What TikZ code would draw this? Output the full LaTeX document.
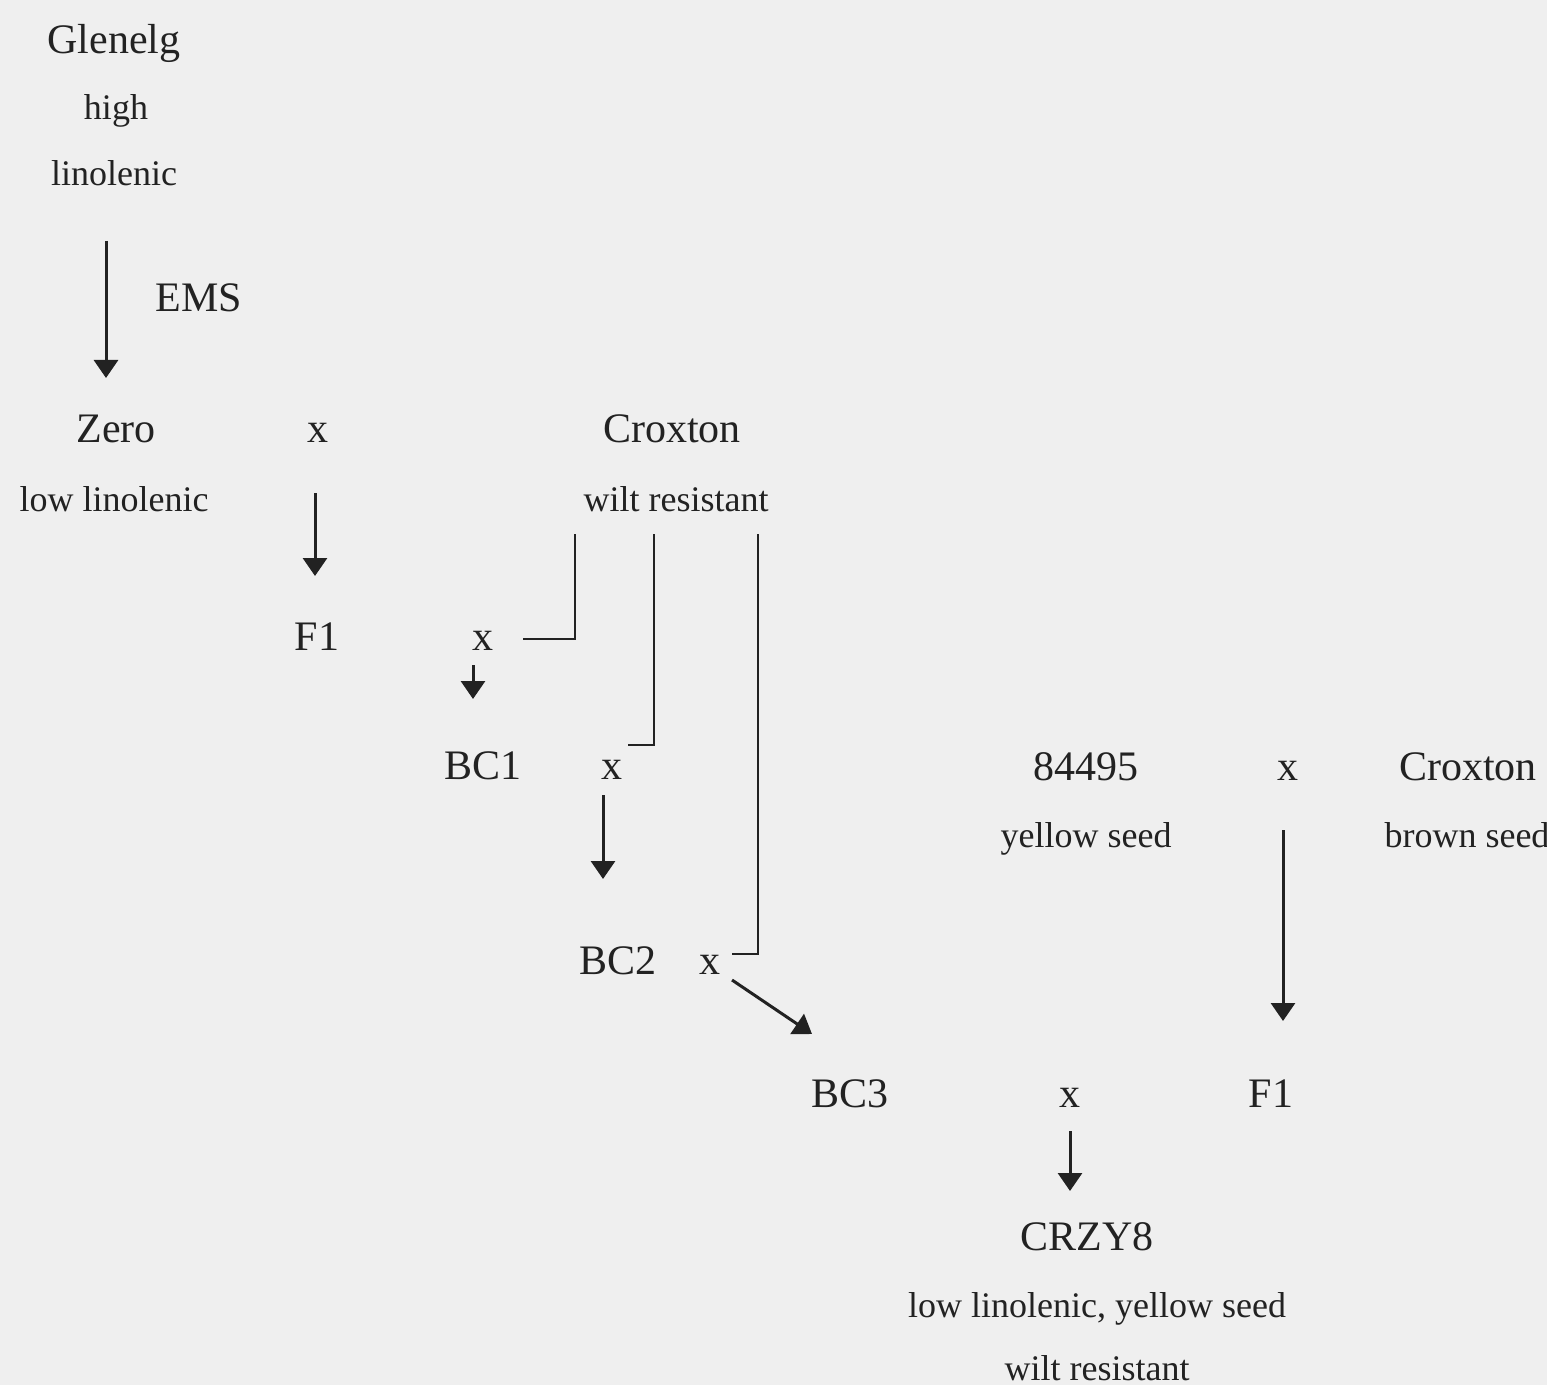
\documentclass[tikz,border=0pt]{standalone}
\usepackage{fontspec}
\setmainfont{Liberation Serif}
\usetikzlibrary{arrows.meta}
\definecolor{paper}{HTML}{EFEFEF}
\definecolor{ink}{HTML}{222222}
\tikzset{
  big/.style={font=\fontsize{21}{24}\selectfont, text=ink, anchor=base, inner sep=0pt},
  small/.style={font=\fontsize{18}{21}\selectfont, text=ink, anchor=base, inner sep=0pt},
  arr/.style={draw=ink, line width=1.5pt, -{Triangle[width=12pt,length=9pt]}},
  link/.style={draw=ink, line width=1pt}
}
\begin{document}
\begin{tikzpicture}[x=0.5pt,y=-0.5pt]
\fill[paper] (0,0) rectangle (1547,1385);
\useasboundingbox (0,0) rectangle (1547,1385);

% Mutation of Glenelg
\node[big]   (glen)  at (114,54)  {Glenelg};
\node[small] (high)  at (116,120) {high};
\node[small] (lino)  at (114,186) {linolenic};
\node[big]   (ems)   at (199,312) {EMS};
\node[big]   (zero)  at (116,443) {Zero};
\node[small] (lowl)  at (114,511) {low linolenic};

% Backcrossing to Croxton
\node[big]   (x1)    at (318,443) {x};
\node[big]   (crox1) at (672,443) {Croxton};
\node[small] (wr1)   at (676,511) {wilt resistant};
\node[big]   (f1a)   at (317,650) {F1};
\node[big]   (x2)    at (483,650) {x};
\node[big]   (bc1)   at (483,779) {BC1};
\node[big]   (x3)    at (612,779) {x};
\node[big]   (bc2)   at (618,974) {BC2};
\node[big]   (x4)    at (710,974) {x};
\node[big]   (bc3)   at (850,1107) {BC3};

% Seed colour cross
\node[big]   (p84)   at (1086,780) {84495};
\node[small] (ys)    at (1086,847) {yellow seed};
\node[big]   (x5)    at (1288,780) {x};
\node[big]   (crox2) at (1468,780) {Croxton};
\node[small] (bs)    at (1467,847) {brown seed};
\node[big]   (f1b)   at (1271,1107) {F1};

% Final cross
\node[big]   (x6)    at (1070,1107) {x};
\node[big]   (crzy)  at (1087,1250) {CRZY8};
\node[small] (t1)    at (1097,1317) {low linolenic, yellow seed};
\node[small] (t2)    at (1097,1380) {wilt resistant};

% arrow end points
\coordinate (a1s) at (106,241);  \coordinate (a1e) at (106,378);
\coordinate (a2s) at (315,493);  \coordinate (a2e) at (315,576);
\coordinate (a3s) at (473,665);  \coordinate (a3e) at (473,699);
\coordinate (a4s) at (603,795);  \coordinate (a4e) at (603,879);
\coordinate (a5s) at (732,980);  \coordinate (a5e) at (812,1034);
\coordinate (a6s) at (1283,830); \coordinate (a6e) at (1283,1021);
\coordinate (a7s) at (1070,1131);\coordinate (a7e) at (1070,1191);

\draw[arr] (a1s) -- (a1e);
\draw[arr] (a2s) -- (a2e);
\draw[arr] (a3s) -- (a3e);
\draw[arr] (a4s) -- (a4e);
\draw[arr] (a5s) -- (a5e);
\draw[arr] (a6s) -- (a6e);
\draw[arr] (a7s) -- (a7e);

% recurrent parent lines from Croxton
\coordinate (b1t) at (575,534); \coordinate (b1e) at (523,639);
\coordinate (b2t) at (654,534); \coordinate (b2e) at (628,745);
\coordinate (b3t) at (758,534); \coordinate (b3e) at (732,954);
\draw[link] (b1t) |- (b1e);
\draw[link] (b2t) |- (b2e);
\draw[link] (b3t) |- (b3e);
\end{tikzpicture}
\end{document}
